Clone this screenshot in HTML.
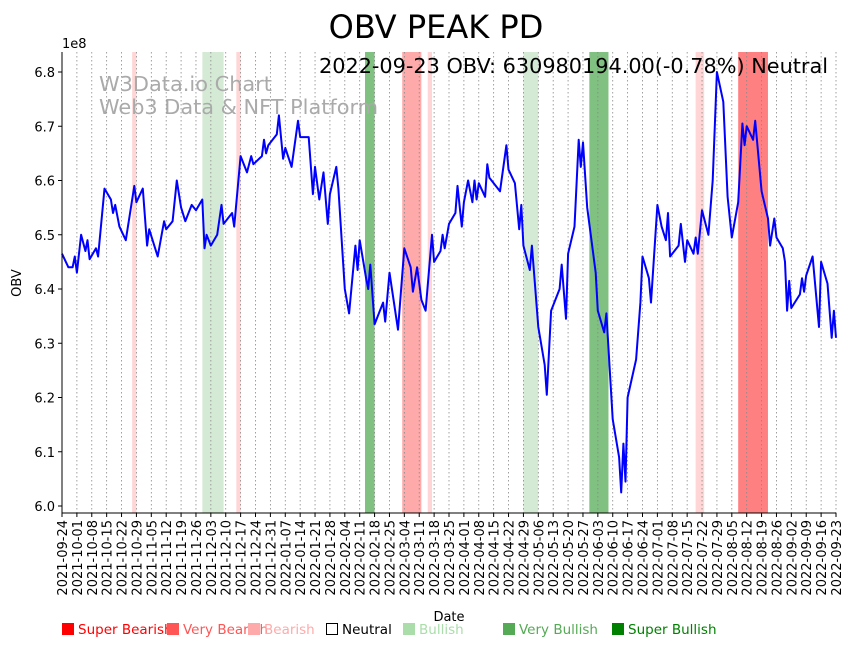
<!DOCTYPE html>
<html><head><meta charset="utf-8"><style>
body{margin:0;background:#fff}
svg text{font-family:"DejaVu Sans","Liberation Sans",sans-serif}
</style></head><body>
<svg id="chart" width="853" height="646" xmlns="http://www.w3.org/2000/svg">
<rect width="853" height="646" fill="#fff"/>
<g id="spans"></g>
<g id="grid"></g>
<g fill="#aaa" font-size="20.7">
<text x="99" y="91" textLength="173" lengthAdjust="spacingAndGlyphs">W3Data.io Chart</text>
<text x="99" y="114" textLength="279" lengthAdjust="spacingAndGlyphs">Web3 Data &amp; NFT Platform</text>
</g>
<path id="line" fill="none" stroke="#0000ff" stroke-width="2" stroke-linejoin="round"/>
<line x1="62" y1="52" x2="62" y2="513" stroke="#000" stroke-width="1"/>
<line x1="62" y1="513" x2="836" y2="513" stroke="#000" stroke-width="1"/>
<g id="yticks"></g><g id="xticks"></g>
<text x="436" y="38" font-size="32" text-anchor="middle">OBV PEAK PD</text>
<text x="319" y="73" font-size="20.7" textLength="509" lengthAdjust="spacingAndGlyphs">2022-09-23 OBV: 630980194.00(-0.78%) Neutral</text>
<text x="62" y="48" font-size="13">1e8</text>
<text x="21" y="283" font-size="13" text-anchor="middle" transform="rotate(-90 21 283)">OBV</text>
<text x="449" y="621" font-size="13" text-anchor="middle">Date</text>
<g id="legend" font-size="13.5"></g>
</svg>
<script>
const dayIdx=[0,3,5,6,7,9,11,12,13,16,17,20,23,24,25,27,30,34,35,38,40,41,45,48,49,52,54,56,58,61,63,66,67,68,70,73,75,76,80,81,84,87,89,90,94,95,96,97,101,102,104,105,108,111,112,116,118,119,121,123,125,126,129,130,133,135,138,139,140,143,144,145,147,151,152,154,158,161,164,165,167,169,171,174,175,178,179,180,182,185,186,188,189,191,193,194,195,196,199,200,201,206,209,210,213,215,216,217,220,221,224,227,228,230,234,235,237,238,241,243,244,245,247,251,252,255,256,259,262,263,264,265,266,270,272,273,276,277,280,282,284,285,286,290,291,293,294,297,298,299,301,304,306,308,311,313,315,318,320,321,322,325,326,329,332,333,335,336,339,340,341,342,343,347,348,349,350,353,356,357,360,362,363,364];
const obvValues=[6.465,6.44,6.44,6.46,6.43,6.50,6.47,6.49,6.455,6.475,6.46,6.585,6.565,6.54,6.555,6.515,6.49,6.59,6.56,6.585,6.48,6.51,6.46,6.525,6.51,6.525,6.60,6.55,6.525,6.555,6.545,6.565,6.475,6.50,6.48,6.50,6.555,6.52,6.54,6.515,6.645,6.615,6.645,6.63,6.645,6.675,6.65,6.665,6.685,6.72,6.64,6.66,6.625,6.71,6.68,6.68,6.575,6.625,6.565,6.615,6.52,6.575,6.625,6.585,6.40,6.355,6.48,6.435,6.49,6.42,6.40,6.445,6.335,6.375,6.34,6.43,6.325,6.475,6.44,6.395,6.44,6.38,6.36,6.50,6.45,6.47,6.50,6.475,6.52,6.54,6.59,6.515,6.56,6.60,6.56,6.60,6.565,6.595,6.57,6.63,6.605,6.58,6.665,6.62,6.595,6.51,6.555,6.48,6.435,6.48,6.33,6.26,6.205,6.36,6.40,6.445,6.345,6.465,6.515,6.675,6.625,6.67,6.55,6.43,6.36,6.32,6.355,6.16,6.09,6.025,6.115,6.045,6.20,6.27,6.375,6.46,6.42,6.375,6.555,6.515,6.49,6.54,6.46,6.48,6.52,6.45,6.49,6.465,6.495,6.465,6.545,6.50,6.60,6.80,6.745,6.57,6.495,6.56,6.705,6.665,6.70,6.675,6.71,6.58,6.53,6.48,6.53,6.495,6.475,6.45,6.36,6.415,6.365,6.39,6.42,6.395,6.425,6.46,6.33,6.45,6.41,6.31,6.36,6.31];
const spanStart=[33,66,82,142.5,160,172,217,248,298,318];
const spanEnd=[35,76,84,147,169,174,224,257,302,332];
const spanKind=['bearish','bullish','bearish','very-bullish','very-bearish','bearish','bullish','very-bullish','bearish','super-bearish'];
const yTicks=[6.0,6.1,6.2,6.3,6.4,6.5,6.6,6.7,6.8];
const xTickLabels=[];
const legendLabels=['Super Bearish','Very Bearish','Bearish','Neutral','Bullish','Very Bullish','Super Bullish'];

const NS='http://www.w3.org/2000/svg';
const X0=62,X1=836,Y0=513,Y1=52;
const x=d=>X0+d*(X1-X0)/364;
const y=v=>506-(v-6.0)*542.5;
const kindColor={'super-bearish':'#ff8080','very-bearish':'#ffaaaa','bearish':'#ffd5d5','bullish':'#d5ead5','very-bullish':'#80c080','super-bullish':'#80c080'};
function mk(t,a,p){const e=document.createElementNS(NS,t);for(const k in a)e.setAttribute(k,a[k]);p.appendChild(e);return e;}

const sp=document.getElementById('spans');
for(let i=0;i<spanStart.length;i++){
 const r=mk('rect',{x:x(spanStart[i]),y:Y1,width:x(spanEnd[i])-x(spanStart[i]),height:Y0-Y1,fill:kindColor[spanKind[i]]},sp);
 
 
}
const base=new Date(Date.UTC(2021,8,24));
for(let w=0;w<=52;w++){const d=new Date(base.getTime()+w*7*86400000);xTickLabels.push(d.toISOString().slice(0,10));}
const g=document.getElementById('grid'),xt=document.getElementById('xticks');
xTickLabels.forEach((lab,i)=>{
 const px=x(i*7);
 mk('line',{x1:px,y1:Y1,x2:px,y2:Y0,stroke:'#888','stroke-width':0.8,'stroke-dasharray':'1.5,2.5'},g);
 mk('line',{x1:px,y1:Y0,x2:px,y2:Y0+4,stroke:'#000'},xt);
 const t=mk('text',{x:px+5,y:Y0+7,'font-size':13,'text-anchor':'end',transform:`rotate(-90 ${px+5} ${Y0+7})`},xt);
 t.textContent=lab;
 
 
});
const yt=document.getElementById('yticks');
yTicks.forEach(v=>{
 mk('line',{x1:X0-4,y1:y(v),x2:X0,y2:y(v),stroke:'#000'},yt);
 const t=mk('text',{x:X0-7,y:y(v)+5,'font-size':13,'text-anchor':'end'},yt);
 t.textContent=v.toFixed(1);
 
 
});
const n=Math.min(dayIdx.length,obvValues.length);
let dstr='';for(let i=0;i<n;i++)dstr+=(i?'L':'M')+x(dayIdx[i]).toFixed(1)+' '+y(obvValues[i]).toFixed(1);
document.getElementById('line').setAttribute('d',dstr);
const lg=document.getElementById('legend');
const lx=[62,167,248,326,403,503,612];
const lcol=['#ff0000','#ff5555','#ffaaaa','#000','#aaddaa','#55aa55','#008000'];
legendLabels.forEach((lab,i)=>{
 const it=mk('g',{},lg);
 
 
 if(i===3)mk('rect',{x:lx[i]+0.5,y:623.5,width:11,height:11,fill:'#fff',stroke:'#000'},it);
 else mk('rect',{x:lx[i],y:623,width:12,height:12,fill:lcol[i]},it);
 const t=mk('text',{x:lx[i]+16,y:634,fill:lcol[i]},it);t.textContent=lab;
});
</script>
</body></html>
